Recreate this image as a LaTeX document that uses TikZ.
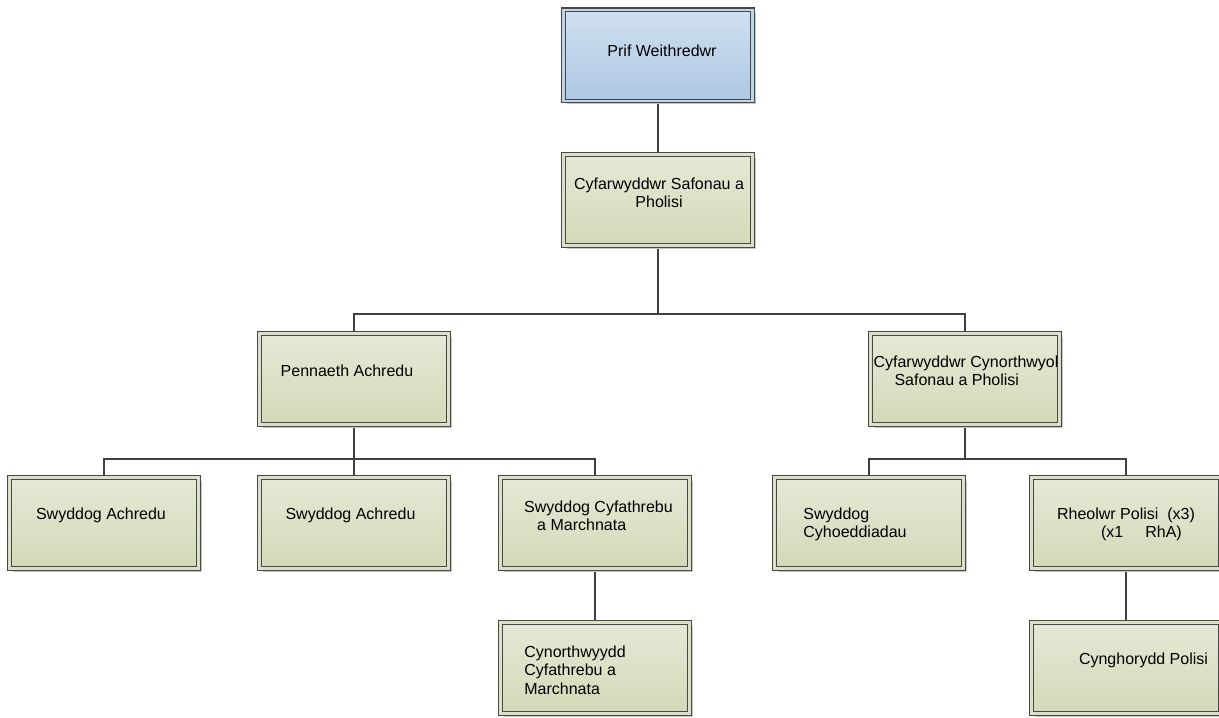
\documentclass[tikz,border=0pt]{standalone}
\usepackage{fontspec}
\setmainfont{Liberation Sans}
\usetikzlibrary{shadows,backgrounds}
\definecolor{boxline}{RGB}{72,72,72}
\definecolor{greentop}{RGB}{229,233,214}
\definecolor{greenbot}{RGB}{210,218,184}
\definecolor{bluetop}{RGB}{207,224,240}
\definecolor{bluebot}{RGB}{174,200,227}
\definecolor{linkcol}{RGB}{64,64,64}
\tikzset{
  post/.style={draw=boxline, line width=0.55pt, double=greentop!50!greenbot, double distance=1.3pt,
    top color=greentop, bottom color=greenbot, minimum width=94.6pt, minimum height=45.6pt, inner sep=0pt,
    drop shadow={shadow xshift=1.7pt, shadow yshift=-1.7pt, fill=black!22, opacity=1}},
  chief/.style={post, double=bluetop!50!bluebot, top color=bluetop, bottom color=bluebot},
  txt/.style={font=\fontsize{8}{9.2}\selectfont, text=black, inner sep=0pt, align=left},
  link/.style={draw=linkcol, line width=0.95pt}
}
\begin{document}
\begin{tikzpicture}[x=0.5pt,y=-0.5pt]
\useasboundingbox (0,0) rectangle (1219,717);
% boxes
\node[chief] (prif) at (658,55.5) {};
\node[post] (cyf) at (658,200) {};
\node[post] (pen) at (354,379) {};
\node[post] (cyn) at (965,379) {};
\node[post] (sa1) at (104,523) {};
\node[post] (sa2) at (354,523) {};
\node[post] (scm) at (595,523) {};
\node[post] (scy) at (869,523) {};
\node[post] (rp) at (1126,523) {};
\node[post] (cmc) at (595,668) {};
\node[post] (cp) at (1126,668) {};
% labels
\node[txt] (prif-t) at ([shift={(4,-5)}]prif.center) {Prif Weithredwr};
\node[txt,align=center] (cyf-t) at ([shift={(1,-7)}]cyf.center) {Cyfarwyddwr Safonau a\\ Pholisi};
\node[txt] (pen-t) at ([shift={(-7,-8)}]pen.center) {Pennaeth Achredu};
\node[txt] (cyn-t) at ([shift={(1,-8)}]cyn.center) {Cyfarwyddwr Cynorthwyol\\ \hspace*{10.5pt}Safonau a Pholisi};
\node[txt] (sa1-t) at ([shift={(-3,-8)}]sa1.center) {Swyddog Achredu};
\node[txt] (sa2-t) at ([shift={(-3.5,-8)}]sa2.center) {Swyddog Achredu};
\node[txt] (scm-t) at ([shift={(3.5,-7.5)}]scm.center) {Swyddog Cyfathrebu\\ \hspace*{6.5pt}a Marchnata};
\node[txt] (scy-t) at ([shift={(-14,1.5)}]scy.center) {Swyddog\\ Cyhoeddiadau};
\node[txt] (rp-t) at ([shift={(0,1.5)}]rp.center) {Rheolwr Polisi\ \ (x3)\\ \hspace*{22pt}(x1\hspace{11pt}RhA)};
\node[txt] (cmc-t) at ([shift={(-20,2)}]cmc.center) {Cynorthwyydd\\ Cyfathrebu a\\ Marchnata};
\node[txt] (cp-t) at ([shift={(17.5,-8)}]cp.center) {Cynghorydd Polisi};
% connectors
\coordinate (bus1) at (658,314);
\coordinate (bus2) at (354,459);
\coordinate (bus3) at (965,459);
\begin{pgfonlayer}{background}
\draw[link] (prif) -- (cyf);
\draw[link] (cyf.south) -- (bus1) (pen.north) |- (bus1) -| (cyn.north);
\draw[link] (pen.south) -- (sa2.north) (sa1.north) |- (bus2) -| (scm.north);
\draw[link] (cyn.south) -- (bus3) (scy.north) |- (bus3) -| (rp.north);
\draw[link] (scm) -- (cmc);
\draw[link] (rp) -- (cp);
\end{pgfonlayer}
\end{tikzpicture}
\end{document}
